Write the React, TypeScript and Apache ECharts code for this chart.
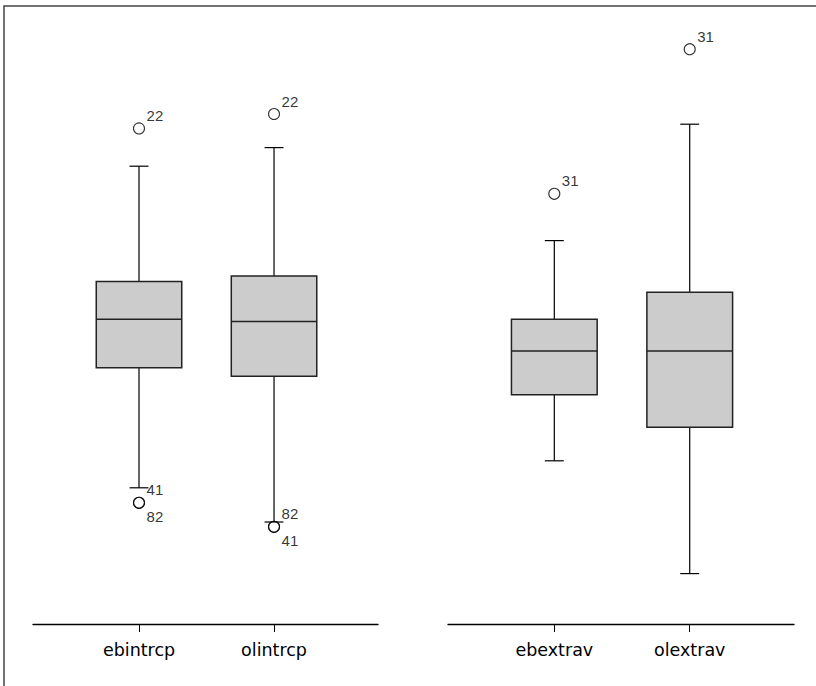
import React, { useEffect, useRef } from "react";
import * as echarts from "echarts";

// ---- data ----
const leftCategories = ["ebintrcp", "olintrcp"];
const rightCategories = ["ebextrav", "olextrav"];

// whisker low, Q1, median, Q3, whisker high
const leftLow = [22.7, 17.0];
const leftQ1 = [42.7, 41.3];
const leftMedian = [50.8, 50.4];
const leftQ3 = [57.1, 58.0];
const leftHigh = [76.3, 79.4];

const rightLow = [27.2, 8.4];
const rightQ1 = [38.2, 32.8];
const rightMedian = [45.5, 45.5];
const rightQ3 = [50.8, 55.3];
const rightHigh = [63.9, 83.3];

// outliers: category (1-based), value, case id, label side
const leftOutlierCat = [1, 1, 1, 2, 2, 2];
const leftOutlierVal = [82.6, 20.2, 20.2, 85.0, 16.2, 16.2];
const leftOutlierId = ["22", "41", "82", "22", "82", "41"];
const leftOutlierSide = ["up", "up", "down", "up", "up", "down"];

const rightOutlierCat = [1, 2];
const rightOutlierVal = [71.7, 95.8];
const rightOutlierId = ["31", "31"];
const rightOutlierSide = ["up", "up"];

const X_MIN = 0.215;
const X_MAX = 2.77;
const BOX_WIDTH = 0.633;
const CAP_WIDTH = 0.14;

function boxData(low: number[], q1: number[], med: number[], q3: number[], high: number[]) {
  return low.map((_, i) => [i + 1, low[i], q1[i], med[i], q3[i], high[i]]);
}

function outlierData(cat: number[], val: number[], ids: string[], side: string[]) {
  return cat.map((c, i) => ({
    value: [c, val[i]],
    name: ids[i],
    label: { offset: [0, side[i] === "up" ? -13 : 14] },
  }));
}

const renderBox = (params: any, api: any) => {
  const x = api.value(0);
  const low = api.coord([x, api.value(1)]);
  const q1 = api.coord([x, api.value(2)]);
  const med = api.coord([x, api.value(3)]);
  const q3 = api.coord([x, api.value(4)]);
  const high = api.coord([x, api.value(5)]);
  const hb = api.size([BOX_WIDTH, 0])[0] / 2;
  const hc = api.size([CAP_WIDTH, 0])[0] / 2;
  const cx = low[0];
  const lineStyle = { stroke: "#000", lineWidth: 1.2 };
  return {
    type: "group",
    children: [
      { type: "line", shape: { x1: cx, y1: high[1], x2: cx, y2: q3[1] }, style: lineStyle },
      { type: "line", shape: { x1: cx, y1: q1[1], x2: cx, y2: low[1] }, style: lineStyle },
      { type: "line", shape: { x1: cx - hc, y1: high[1], x2: cx + hc, y2: high[1] }, style: lineStyle },
      { type: "line", shape: { x1: cx - hc, y1: low[1], x2: cx + hc, y2: low[1] }, style: lineStyle },
      {
        type: "rect",
        shape: { x: cx - hb, y: q3[1], width: hb * 2, height: q1[1] - q3[1] },
        style: { fill: "#cccccc", stroke: "#222", lineWidth: 1.5 },
      },
      { type: "line", shape: { x1: cx - hb, y1: med[1], x2: cx + hb, y2: med[1] }, style: { stroke: "#222", lineWidth: 1.5 } },
    ],
  };
};

function xAxisFor(gridIndex: number, cats: string[]) {
  return {
    type: "value",
    gridIndex,
    min: X_MIN,
    max: X_MAX,
    splitLine: { show: false },
    axisLine: { show: true, onZero: false, lineStyle: { color: "#000", width: 1.3 } },
    axisTick: { show: true, length: 8, customValues: [1, 2], lineStyle: { color: "#000", width: 1 } },
    axisLabel: {
      show: true,
      customValues: [1, 2],
      formatter: (v: number) => cats[Math.round(v) - 1] ?? "",
      margin: 17,
      fontSize: 17.5,
      fontFamily: "DejaVu Sans",
      color: "#000",
    },
  };
}

function yAxisFor(gridIndex: number) {
  return { type: "value", gridIndex, min: 0, max: 100, show: false, splitLine: { show: false } };
}

const outlierSeries = (idx: number, data: any[]) => ({
  type: "scatter",
  xAxisIndex: idx,
  yAxisIndex: idx,
  symbol: "circle",
  symbolSize: 11,
  itemStyle: { color: "rgba(0,0,0,0)", borderColor: "#000", borderWidth: 1.1 },
  label: {
    show: true,
    position: "right",
    distance: 1.5,
    formatter: (p: any) => p.name,
    fontSize: 15,
    fontFamily: "Liberation Sans",
    color: "#000",
  },
  data,
  z: 5,
});

export default function App() {
  const ref = useRef<HTMLDivElement>(null);
  useEffect(() => {
    if (!ref.current) return;
    const chart = echarts.init(ref.current, undefined, { renderer: "svg" });
    chart.setOption({
      animation: false,
      backgroundColor: "#fff",
      grid: [
        { left: 33, width: 345, top: 24, bottom: 62 },
        { left: 448, width: 346, top: 24, bottom: 62 },
      ],
      xAxis: [xAxisFor(0, leftCategories), xAxisFor(1, rightCategories)],
      yAxis: [yAxisFor(0), yAxisFor(1)],
      graphic: [
        {
          type: "rect",
          shape: { x: 4, y: 6, width: 840, height: 720 },
          style: { fill: "none", stroke: "#444", lineWidth: 1.5 },
          silent: true,
        },
      ],
      series: [
        {
          type: "custom",
          xAxisIndex: 0,
          yAxisIndex: 0,
          renderItem: renderBox,
          data: boxData(leftLow, leftQ1, leftMedian, leftQ3, leftHigh),
          encode: { x: 0, y: [1, 2, 3, 4, 5] },
        },
        {
          type: "custom",
          xAxisIndex: 1,
          yAxisIndex: 1,
          renderItem: renderBox,
          data: boxData(rightLow, rightQ1, rightMedian, rightQ3, rightHigh),
          encode: { x: 0, y: [1, 2, 3, 4, 5] },
        },
        outlierSeries(0, outlierData(leftOutlierCat, leftOutlierVal, leftOutlierId, leftOutlierSide)),
        outlierSeries(1, outlierData(rightOutlierCat, rightOutlierVal, rightOutlierId, rightOutlierSide)),
      ],
    });
    return () => chart.dispose();
  }, []);
  return (
    <div
      ref={ref}
      style={{ position: "fixed", left: 0, top: 0, width: 816, height: 686, background: "#fff" }}
    />
  );
}
